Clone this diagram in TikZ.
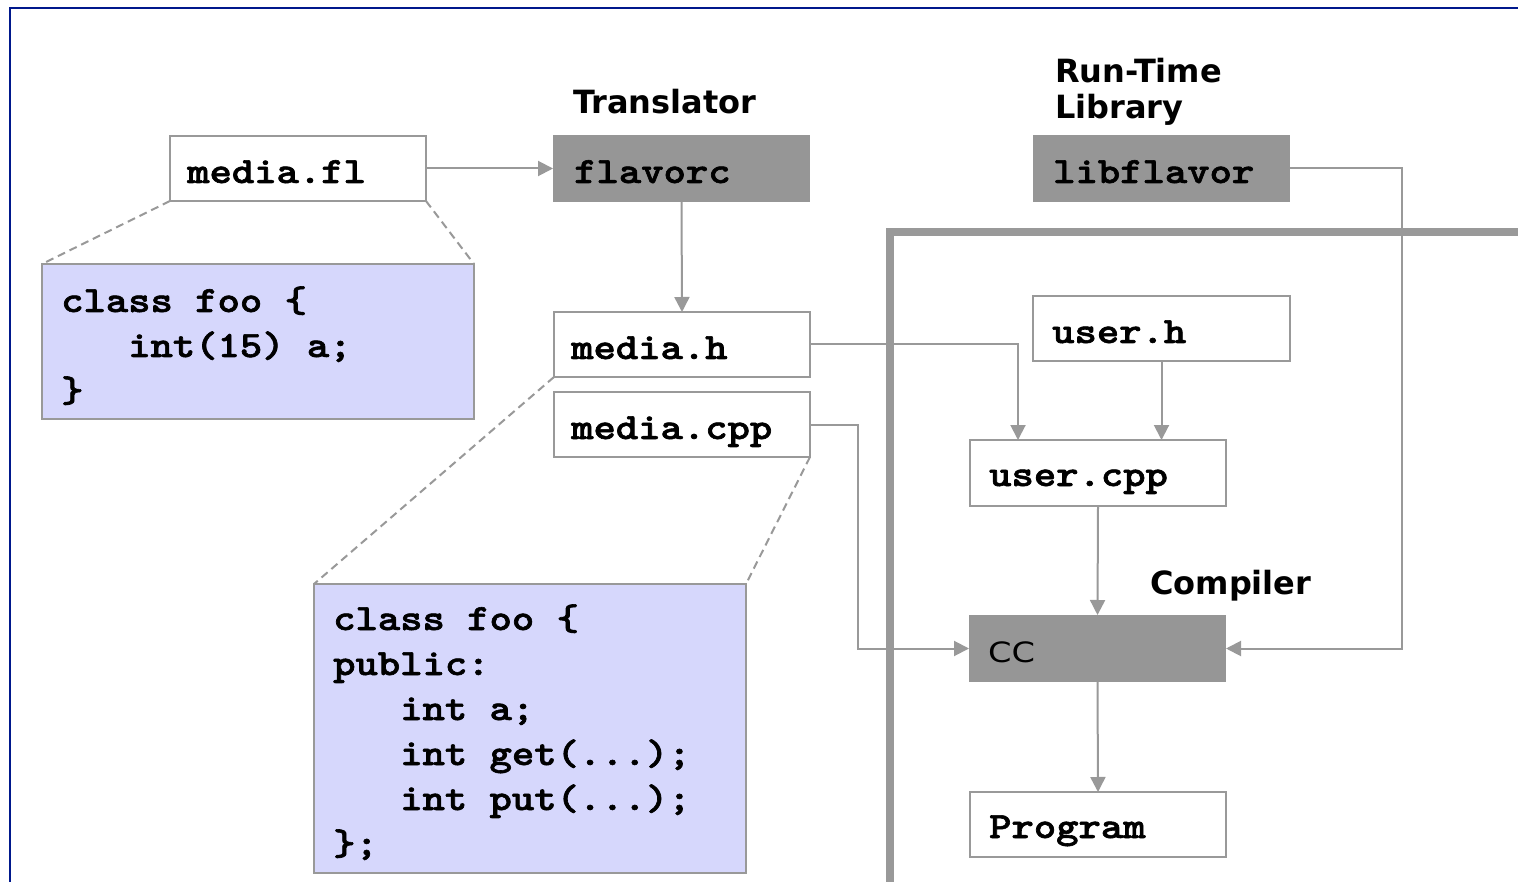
\documentclass[tikz,border=0pt]{standalone}
\usepackage{graphicx}
\usepackage{fontspec}
\setmainfont{DejaVu Sans}
\newfontfamily\codefont{lmmonolt10-bold}[Extension=.otf, FakeBold=1.6]
\usetikzlibrary{arrows.meta,calc}
\definecolor{linegray}{RGB}{153,153,153}
\definecolor{boxgray}{RGB}{150,150,150}
\definecolor{lavender}{RGB}{214,215,252}
\definecolor{frameblue}{RGB}{0,24,140}
\newcommand{\cw}[1]{\scalebox{1.15}[1]{#1}}
\begin{document}
\begin{tikzpicture}[x=1pt,y=-1pt,
  filebox/.style={draw=linegray, line width=2pt, fill=white, rectangle, anchor=north west,
    minimum width=256pt, minimum height=65pt, inner sep=0pt, outer sep=0pt},
  toolbox/.style={fill=boxgray, rectangle, anchor=north west,
    minimum width=257pt, minimum height=67pt, inner sep=0pt, outer sep=0pt},
  codebox/.style={draw=linegray, line width=2pt, fill=lavender, rectangle, anchor=north west,
    inner sep=0pt, outer sep=0pt},
  fname/.style={anchor=base west, inner sep=0pt, font=\codefont\fontsize{37}{45}\selectfont},
  title/.style={anchor=base west, inner sep=0pt, font=\bfseries\fontsize{32}{36}\selectfont},
  tooltext/.style={anchor=base west, inner sep=0pt, font=\fontsize{28}{32}\selectfont},
  conn/.style={draw=linegray, line width=2pt, -{Triangle[length=15pt,width=15pt]}},
  zoomline/.style={draw=linegray, line width=2pt, dash pattern=on 8pt off 5pt},
  wall/.style={draw=linegray, line width=7.5pt},
]
\useasboundingbox (0,0) rectangle (1518,882);
\fill[white] (0,0) rectangle (1518,882);
% frame
\draw[frameblue, line width=2.5pt] (10,884) -- (10,8) -- (1520,8);
% wall
\draw[wall] (890,884) -- (890,232) -- (1520,232);

% boxes
\node[filebox] (mediafl) at (170,136) {};
\node[toolbox] (flavorc) at (553,135) {};
\node[toolbox] (libflavor) at (1033,135) {};
\node[filebox] (mediah) at (554,312) {};
\node[filebox] (mediacpp) at (554,392) {};
\node[filebox, minimum width=257pt] (userh) at (1033,296) {};
\node[filebox, minimum height=66pt] (usercpp) at (970,440) {};
\node[toolbox] (cc) at (969,615) {};
\node[filebox] (program) at (970,792) {};
\node[codebox, minimum width=432pt, minimum height=155pt] (def1) at (42,264) {};
\node[codebox, minimum width=432pt, minimum height=289pt] (def2) at (314,584) {};

% zoom lines
\draw[zoomline] (mediafl.south west) -- (def1.north west);
\draw[zoomline] (mediafl.south east) -- (def1.north east);
\draw[zoomline] (mediah.south west) -- (def2.north west);
\draw[zoomline] (mediacpp.south east) -- (def2.north east);

% connectors
\draw[conn] (mediafl.east) -- (flavorc.west);
\draw[conn] (flavorc.south) -- (mediah.north);
\coordinate (uc-in) at ($(usercpp.north west)+(48,0)$);
\draw[conn] (mediah.east) -| (uc-in);
\draw[conn] (userh.south) -- (userh.south |- usercpp.north);
\draw[conn] (mediacpp.east) -- ++(48,0) |- (cc.west);
\draw[conn] (usercpp.south) -- (cc.north);
\draw[conn] (cc.south) -- (program.north);
\draw[conn] (libflavor.east) -- ++(112,0) |- (cc.east);

% texts
\node[fname] (mediafl-t) at (187,183) {\cw{media.fl}};
\node[fname] (flavorc-t) at (574,183) {\cw{flavorc}};
\node[fname] (libflavor-t) at (1053,183) {\cw{libflavor}};
\node[fname] (mediah-t) at (571,359) {\cw{media.h}};
\node[fname] (mediacpp-t) at (571,439) {\cw{media.cpp}};
\node[fname] (userh-t) at (1052,343) {\cw{user.h}};
\node[fname] (usercpp-t) at (989,486) {\cw{user.cpp}};
\node[fname] (program-t) at (989,838) {\cw{Program}};
\node[tooltext] (cc-t) at (988,662) {\scalebox{1.2}[1]{CC}};
\node[title] (translator) at (573,114) {Translator};
\node[title] (runtime) at (1055,83) {\vtop{\baselineskip=36pt\hbox{Run-Time}\hbox{Library}}};
\node[title] (compiler) at (1150,594) {Compiler};
\node[fname] (def1-t) at (61,312) {\cw{\vtop{\baselineskip=45pt
  \hbox{class foo \{}\hbox{\phantom{int}int(15) a;}\hbox{\}}}}};
\node[fname] (def2-t) at (333,630) {\cw{\vtop{\baselineskip=45pt
  \hbox{class foo \{}\hbox{public:}\hbox{\phantom{int}int a;}
  \hbox{\phantom{int}int get(...);}\hbox{\phantom{int}int put(...);}\hbox{\};}}}};
\end{tikzpicture}
\end{document}
